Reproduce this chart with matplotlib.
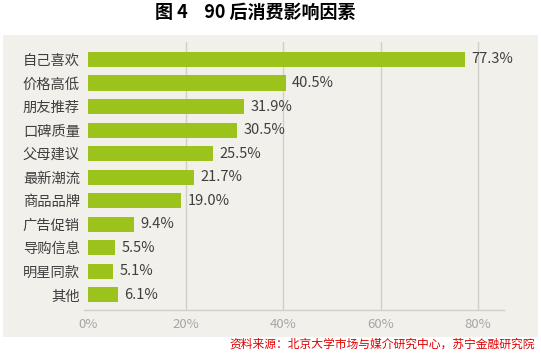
import matplotlib.pyplot as plt
from matplotlib.patches import Rectangle

plt.rcParams['font.family'] = ['Noto Sans CJK SC', 'DejaVu Sans']

# DATA -------------
categories = ["自己喜欢", "价格高低", "朋友推荐", "口碑质量", "父母建议", "最新潮流",
              "商品品牌", "广告促销", "导购信息", "明星同款", "其他"]
values = [77.3, 40.5, 31.9, 30.5, 25.5, 21.7, 19.0, 9.4, 5.5, 5.1, 6.1]
xticks = [0, 20, 40, 60, 80]
xticklabels = ["0%", "20%", "40%", "60%", "80%"]
title = "图 4    90 后消费影响因素"
source = "资料来源：北京大学市场与媒介研究中心，苏宁金融研究院"

# COLORS -----------
bar_green = "#9CC21C"
panel_bg = "#F2F0EB"
grid_grey = "#D0CEC9"
label_dark = "#3F3F3F"
tick_grey = "#A6A6A6"

W, H = 541, 360
fig = plt.figure(figsize=(W / 100, H / 100), dpi=100)
fig.patch.set_facecolor("white")

# panel background (behind the axes)
fig.patches.append(Rectangle((3 / W, 1 - 337 / H), 535 / W, 302 / H,
                             transform=fig.transFigure, facecolor=panel_bg,
                             edgecolor="none", zorder=-5))

ax = fig.add_axes([84 / W, 1 - 310 / H, 420 / W, 268 / H])
ax.set_facecolor("none")
ax.set_zorder(1)

ypos = list(range(len(categories)))
ax.barh(ypos, values, height=0.64, color=bar_green, zorder=3)

for y, v in zip(ypos, values):
    ax.annotate(f"{v:.1f}%", (v, y), xytext=(4.5, 0), textcoords="offset points",
                va="center", ha="left", fontsize=10.5, color=label_dark)

ax.set_ylim(10.64, -0.74)
ax.set_xlim(-0.92, 85.3)

ax.set_yticks(ypos)
ax.set_yticklabels(categories, fontsize=10.3, color=label_dark)
ax.set_xticks(xticks)
ax.set_xticklabels(xticklabels, fontsize=9.5, color=tick_grey)
ax.tick_params(axis="both", length=0)
ax.tick_params(axis="x", pad=6)
ax.tick_params(axis="y", pad=3)

for x in xticks[1:]:
    ax.axvline(x, color=grid_grey, lw=1, zorder=1)

for s in ["top", "right", "left"]:
    ax.spines[s].set_visible(False)
ax.spines["bottom"].set_color(grid_grey)
ax.spines["bottom"].set_linewidth(1)

fig.text(255 / W, 1 - 12 / H, title, ha="center", va="center",
         fontsize=13, fontweight="bold", color="black")
fig.text(535 / W, 1 - 344 / H, source, ha="right", va="center",
         fontsize=8.5, color="#E00000", style="italic")

fig.savefig("out.png", dpi=100)
